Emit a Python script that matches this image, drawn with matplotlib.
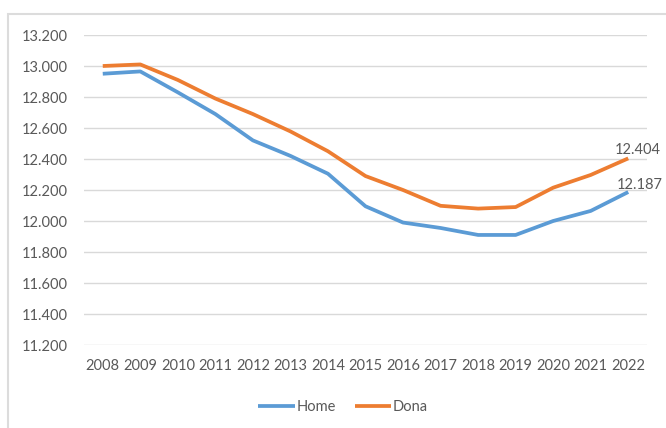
import matplotlib
matplotlib.use("Agg")
import matplotlib.pyplot as plt
from matplotlib.patches import Rectangle
from matplotlib.ticker import FuncFormatter, MultipleLocator

# dades (milers)
years = list(range(2008, 2023))
home = [12950, 12965, 12830, 12690, 12520, 12420, 12305, 12095, 11990, 11955,
        11910, 11910, 12000, 12065, 12187]
dona = [13000, 13010, 12910, 12790, 12690, 12578, 12450, 12290, 12200, 12098,
        12080, 12090, 12215, 12297, 12404]

text_color = "#595959"
plt.rcParams["font.family"] = ["Lato", "DejaVu Sans"]
fs = 10.5

fig = plt.figure(figsize=(6.66, 4.28), dpi=100)
fig.patches.append(Rectangle((8 / 666, -0.1), 1.2, 1 - 14 / 428 + 0.1,
                             transform=fig.transFigure, fill=False,
                             edgecolor="#dcdcdc", linewidth=1.5))

ax = fig.add_axes([84 / 666, 1 - 345 / 428, (647 - 84) / 666, (345 - 35) / 428])

ax.plot(years, home, color="#5B9BD5", linewidth=2.7, label="Home", solid_capstyle="butt")
ax.plot(years, dona, color="#ED7D31", linewidth=2.7, label="Dona", solid_capstyle="butt")

fmt = lambda v: f"{v:,.0f}".replace(",", ".")
ax.annotate(fmt(dona[-1]), (years[-1], dona[-1]), xytext=(6.5, 6), textcoords="offset points",
            ha="center", va="center", fontsize=fs, color=text_color)
ax.annotate(fmt(home[-1]), (years[-1], home[-1]), xytext=(8.5, 5), textcoords="offset points",
            ha="center", va="center", fontsize=fs, color=text_color)

ax.set_xlim(2007.5, 2022.5)
ax.set_ylim(11200, 13200)
ax.set_xticks(years)
ax.yaxis.set_major_locator(MultipleLocator(200))
ax.yaxis.set_major_formatter(FuncFormatter(lambda v, p: fmt(v)))
ax.grid(axis="y", color="#d9d9d9", linewidth=1)
ax.set_axisbelow(True)
for s in ax.spines.values():
    s.set_visible(False)
ax.tick_params(length=0, labelsize=fs, labelcolor=text_color)
ax.tick_params(axis="y", pad=12)
ax.tick_params(axis="x", pad=10)

fig.legend(loc="center", bbox_to_anchor=(343 / 666, 1 - 407 / 428), ncol=2, frameon=False,
           fontsize=fs, labelcolor=text_color, handlelength=2.5, handletextpad=0.1,
           columnspacing=1.3)

fig.savefig("out.png", dpi=100)
